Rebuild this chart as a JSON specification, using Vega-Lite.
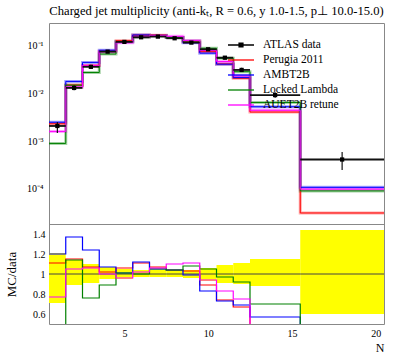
{
  "$schema": "https://vega.github.io/schema/vega-lite/v6.json",
  "width": 335,
  "height": 301,
  "autosize": {"type": "none"},
  "padding": {"left": 49, "top": 23, "right": 13, "bottom": 34},
  "title": {"text": "Charged jet multiplicity (anti-kₜ, R = 0.6, y 1.0-1.5, p⊥ 10.0-15.0)", "font": "Liberation Serif", "fontSize": 12.6, "fontWeight": "normal", "color": "black", "anchor": "middle", "frame": "group", "baseline": "alphabetic", "offset": -5},
  "config": {
    "view": {"stroke": "#888888", "strokeWidth": 1},
    "axis": {"labelFont": "Liberation Serif", "labelFontSize": 10, "labelColor": "black", "tickColor": "#888888", "tickWidth": 1, "tickSize": 0, "domain": false, "grid": false, "labelOverlap": false, "labelFlush": false, "zindex": 1, "titleFont": "Liberation Serif", "titleFontWeight": "normal", "titleColor": "black"}
  },
  "datasets": {
    "dat": [
      {"x": 1, "lo": 0.5, "hi": 1.5, "y": 0.00207, "ylo": 0.00147, "yhi": 0.0025, "rlo": 0.71, "rhi": 1.21},
      {"x": 2, "lo": 1.5, "hi": 2.5, "y": 0.013, "ylo": 0.01157, "yhi": 0.01482, "rlo": 0.89, "rhi": 1.14},
      {"x": 3, "lo": 2.5, "hi": 3.5, "y": 0.036, "ylo": 0.0328, "yhi": 0.0396, "rlo": 0.91, "rhi": 1.1},
      {"x": 4, "lo": 3.5, "hi": 4.5, "y": 0.075, "ylo": 0.0713, "yhi": 0.0803, "rlo": 0.95, "rhi": 1.07},
      {"x": 5, "lo": 4.5, "hi": 5.5, "y": 0.12, "ylo": 0.114, "yhi": 0.126, "rlo": 0.95, "rhi": 1.05},
      {"x": 6, "lo": 5.5, "hi": 6.5, "y": 0.15, "ylo": 0.1455, "yhi": 0.156, "rlo": 0.97, "rhi": 1.04},
      {"x": 7, "lo": 6.5, "hi": 7.5, "y": 0.155, "ylo": 0.1504, "yhi": 0.1612, "rlo": 0.97, "rhi": 1.04},
      {"x": 8, "lo": 7.5, "hi": 8.5, "y": 0.143, "ylo": 0.1387, "yhi": 0.1487, "rlo": 0.97, "rhi": 1.04},
      {"x": 9, "lo": 8.5, "hi": 9.5, "y": 0.116, "ylo": 0.1114, "yhi": 0.1206, "rlo": 0.96, "rhi": 1.04},
      {"x": 10, "lo": 9.5, "hi": 10.5, "y": 0.084, "ylo": 0.0781, "yhi": 0.089, "rlo": 0.93, "rhi": 1.06},
      {"x": 11, "lo": 10.5, "hi": 11.5, "y": 0.056, "ylo": 0.051, "yhi": 0.061, "rlo": 0.91, "rhi": 1.09},
      {"x": 12, "lo": 11.5, "hi": 12.5, "y": 0.031, "ylo": 0.0279, "yhi": 0.0344, "rlo": 0.9, "rhi": 1.11},
      {"x": 14, "lo": 12.5, "hi": 15.5, "y": 0.0092, "ylo": 0.0081, "yhi": 0.0106, "rlo": 0.88, "rhi": 1.15},
      {"x": 18, "lo": 15.5, "hi": 20.5, "y": 0.00041, "ylo": 0.000246, "yhi": 0.00059, "rlo": 0.6, "rhi": 1.44}
    ],
    "mc": [
      {"gen": "Perugia 2011", "x": 0.5, "v": 0.0023, "r": 1.11},
      {"gen": "Perugia 2011", "x": 1.5, "v": 0.01495, "r": 1.15},
      {"gen": "Perugia 2011", "x": 2.5, "v": 0.0385, "r": 1.07},
      {"gen": "Perugia 2011", "x": 3.5, "v": 0.0765, "r": 1.02},
      {"gen": "Perugia 2011", "x": 4.5, "v": 0.1272, "r": 1.06},
      {"gen": "Perugia 2011", "x": 5.5, "v": 0.1665, "r": 1.11},
      {"gen": "Perugia 2011", "x": 6.5, "v": 0.1659, "r": 1.07},
      {"gen": "Perugia 2011", "x": 7.5, "v": 0.1487, "r": 1.04},
      {"gen": "Perugia 2011", "x": 8.5, "v": 0.1195, "r": 1.03},
      {"gen": "Perugia 2011", "x": 9.5, "v": 0.0748, "r": 0.89},
      {"gen": "Perugia 2011", "x": 10.5, "v": 0.0414, "r": 0.74},
      {"gen": "Perugia 2011", "x": 11.5, "v": 0.0208, "r": 0.67},
      {"gen": "Perugia 2011", "x": 12.5, "v": 0.00405, "r": 0.44},
      {"gen": "Perugia 2011", "x": 15.5, "v": 0.000031, "r": 0.075},
      {"gen": "Perugia 2011", "x": 20.5, "v": 0.000031, "r": 0.075},
      {"gen": "AMBT2B", "x": 0.5, "v": 0.00248, "r": 1.2},
      {"gen": "AMBT2B", "x": 1.5, "v": 0.0178, "r": 1.37},
      {"gen": "AMBT2B", "x": 2.5, "v": 0.0446, "r": 1.24},
      {"gen": "AMBT2B", "x": 3.5, "v": 0.0803, "r": 1.07},
      {"gen": "AMBT2B", "x": 4.5, "v": 0.1212, "r": 1.01},
      {"gen": "AMBT2B", "x": 5.5, "v": 0.168, "r": 1.12},
      {"gen": "AMBT2B", "x": 6.5, "v": 0.1628, "r": 1.05},
      {"gen": "AMBT2B", "x": 7.5, "v": 0.1487, "r": 1.04},
      {"gen": "AMBT2B", "x": 8.5, "v": 0.1148, "r": 0.99},
      {"gen": "AMBT2B", "x": 9.5, "v": 0.0697, "r": 0.83},
      {"gen": "AMBT2B", "x": 10.5, "v": 0.0409, "r": 0.73},
      {"gen": "AMBT2B", "x": 11.5, "v": 0.0214, "r": 0.69},
      {"gen": "AMBT2B", "x": 12.5, "v": 0.00524, "r": 0.57},
      {"gen": "AMBT2B", "x": 15.5, "v": 0.000107, "r": 0.26},
      {"gen": "AMBT2B", "x": 20.5, "v": 0.000107, "r": 0.26},
      {"gen": "Locked Lambda", "x": 0.5, "v": 0.00089, "r": 0.43},
      {"gen": "Locked Lambda", "x": 1.5, "v": 0.01482, "r": 1.14},
      {"gen": "Locked Lambda", "x": 2.5, "v": 0.02736, "r": 0.76},
      {"gen": "Locked Lambda", "x": 3.5, "v": 0.06675, "r": 0.89},
      {"gen": "Locked Lambda", "x": 4.5, "v": 0.1212, "r": 1.01},
      {"gen": "Locked Lambda", "x": 5.5, "v": 0.15, "r": 1.0},
      {"gen": "Locked Lambda", "x": 6.5, "v": 0.1628, "r": 1.05},
      {"gen": "Locked Lambda", "x": 7.5, "v": 0.1487, "r": 1.04},
      {"gen": "Locked Lambda", "x": 8.5, "v": 0.1253, "r": 1.08},
      {"gen": "Locked Lambda", "x": 9.5, "v": 0.0882, "r": 1.05},
      {"gen": "Locked Lambda", "x": 10.5, "v": 0.0543, "r": 0.97},
      {"gen": "Locked Lambda", "x": 11.5, "v": 0.0285, "r": 0.92},
      {"gen": "Locked Lambda", "x": 12.5, "v": 0.00644, "r": 0.7},
      {"gen": "Locked Lambda", "x": 15.5, "v": 0.00009, "r": 0.22},
      {"gen": "Locked Lambda", "x": 20.5, "v": 0.00009, "r": 0.22},
      {"gen": "AUET2B retune", "x": 0.5, "v": 0.00159, "r": 0.77},
      {"gen": "AUET2B retune", "x": 1.5, "v": 0.01365, "r": 1.05},
      {"gen": "AUET2B retune", "x": 2.5, "v": 0.0382, "r": 1.06},
      {"gen": "AUET2B retune", "x": 3.5, "v": 0.075, "r": 1.0},
      {"gen": "AUET2B retune", "x": 4.5, "v": 0.1152, "r": 0.96},
      {"gen": "AUET2B retune", "x": 5.5, "v": 0.153, "r": 1.02},
      {"gen": "AUET2B retune", "x": 6.5, "v": 0.1643, "r": 1.06},
      {"gen": "AUET2B retune", "x": 7.5, "v": 0.1573, "r": 1.1},
      {"gen": "AUET2B retune", "x": 8.5, "v": 0.1288, "r": 1.11},
      {"gen": "AUET2B retune", "x": 9.5, "v": 0.079, "r": 0.94},
      {"gen": "AUET2B retune", "x": 10.5, "v": 0.0465, "r": 0.83},
      {"gen": "AUET2B retune", "x": 11.5, "v": 0.02325, "r": 0.75},
      {"gen": "AUET2B retune", "x": 12.5, "v": 0.00442, "r": 0.48},
      {"gen": "AUET2B retune", "x": 15.5, "v": 0.000098, "r": 0.24},
      {"gen": "AUET2B retune", "x": 20.5, "v": 0.000098, "r": 0.24}
    ]
  },
  "layer": [
    {
      "data": {"name": "dat"},
      "mark": {"type": "rect", "color": "#ffff00"},
      "encoding": {
        "x": {"field": "lo", "type": "quantitative", "scale": {"domain": [0.5, 20.5], "nice": false, "zero": false},
          "axis": {"orient": "bottom", "values": [1,2,3,4,5,6,7,8,9,10,11,12,13,14,15,16,17,18,19,20], "labelExpr": "datum.value % 5 === 0 ? datum.label : ''", "labelPadding": 4, "title": "N", "titleX": 335, "titleY": 27, "titleAlign": "right", "titleBaseline": "alphabetic", "titleFontSize": 12,
            "encode": {"ticks": {"update": {"y2": {"signal": "datum.value % 5 === 0 ? -10 : -5"}}}}}},
        "x2": {"field": "hi"},
        "y": {"field": "rlo", "type": "quantitative", "scale": {"domain": [0.5, 1.5], "range": [301, 201], "nice": false, "zero": false},
          "axis": {"orient": "left", "values": [0.55,0.6,0.65,0.7,0.75,0.8,0.85,0.9,0.95,1,1.05,1.1,1.15,1.2,1.25,1.3,1.35,1.4,1.45], "labelExpr": "abs(datum.value*5 - round(datum.value*5)) < 0.001 ? '' + round(datum.value*10)/10 : ''", "labelPadding": 4, "title": "MC/data", "titleX": -38, "titleY": 251, "titleAngle": 270, "titleAlign": "center", "titleBaseline": "middle", "titleFontSize": 13,
            "encode": {"ticks": {"update": {"x2": {"signal": "abs(datum.value*5 - round(datum.value*5)) < 0.001 ? 9 : 5"}}}}}},
        "y2": {"field": "rhi"}
      }
    },
    {
      "data": {"name": "dat"},
      "mark": {"type": "rule", "color": "#444444", "strokeWidth": 1},
      "encoding": {
        "x": {"field": "lo", "type": "quantitative", "scale": {"domain": [0.5, 20.5], "nice": false, "zero": false}, "axis": null},
        "x2": {"field": "hi"},
        "y": {"datum": 1, "type": "quantitative", "scale": {"domain": [0.5, 1.5], "range": [301, 201], "nice": false, "zero": false}, "axis": null}
      }
    },
    {
      "data": {"name": "mc"},
      "mark": {"type": "line", "interpolate": "step-after", "strokeWidth": 1.2, "clip": true},
      "encoding": {
        "x": {"field": "x", "type": "quantitative", "scale": {"domain": [0.5, 20.5], "nice": false, "zero": false},
          "axis": {"orient": "top", "offset": -201, "title": null, "labels": false, "values": [1,2,3,4,5,6,7,8,9,10,11,12,13,14,15,16,17,18,19,20],
            "encode": {"ticks": {"update": {"y2": {"signal": "datum.value % 5 === 0 ? 10 : 5"}}}}}},
        "y": {"field": "r", "type": "quantitative", "scale": {"domain": [0.5, 1.5], "range": [301, 201], "nice": false, "zero": false},
          "axis": {"orient": "right", "title": null, "labels": false, "values": [0.55,0.6,0.65,0.7,0.75,0.8,0.85,0.9,0.95,1,1.05,1.1,1.15,1.2,1.25,1.3,1.35,1.4,1.45],
            "encode": {"ticks": {"update": {"x2": {"signal": "abs(datum.value*5 - round(datum.value*5)) < 0.001 ? -9 : -5"}}}}}},
        "color": {"field": "gen", "type": "nominal", "scale": {"domain": ["ATLAS data", "Perugia 2011", "AMBT2B", "Locked Lambda", "AUET2B retune"], "range": ["#000000", "#ff0000", "#0000ff", "#008000", "#ff00ff"]}}
      }
    },
    {
      "data": {"name": "mc"},
      "mark": {"type": "line", "interpolate": "step-after", "strokeWidth": 3, "opacity": 0.35, "clip": true},
      "encoding": {
        "x": {"field": "x", "type": "quantitative", "scale": {"domain": [0.5, 20.5], "nice": false, "zero": false},
          "axis": {"orient": "top", "title": null, "labels": false, "values": [1,2,3,4,5,6,7,8,9,10,11,12,13,14,15,16,17,18,19,20],
            "encode": {"ticks": {"update": {"y2": {"signal": "datum.value % 5 === 0 ? 10 : 5"}}}}}},
        "y": {"field": "v", "type": "quantitative", "scale": {"type": "log", "domain": [0.0000182, 0.299], "range": [201, 0], "nice": false},
          "axis": {"orient": "left", "title": null, "labelPadding": 6, "values": [0.00002,0.00003,0.00004,0.00005,0.00006,0.00007,0.00008,0.00009,0.0001,0.0002,0.0003,0.0004,0.0005,0.0006,0.0007,0.0008,0.0009,0.001,0.002,0.003,0.004,0.005,0.006,0.007,0.008,0.009,0.01,0.02,0.03,0.04,0.05,0.06,0.07,0.08,0.09,0.1,0.2],
            "labelExpr": "abs(datum.value-0.1) < 1e-9 ? '10⁻¹' : abs(datum.value-0.01) < 1e-10 ? '10⁻²' : abs(datum.value-0.001) < 1e-11 ? '10⁻³' : abs(datum.value-0.0001) < 1e-12 ? '10⁻⁴' : ''",
            "encode": {"ticks": {"update": {"x2": {"signal": "abs(log(datum.value)/LN10 - round(log(datum.value)/LN10)) < 0.001 ? 9 : 5"}}}}}},
        "color": {"field": "gen", "type": "nominal", "scale": {"domain": ["ATLAS data", "Perugia 2011", "AMBT2B", "Locked Lambda", "AUET2B retune"], "range": ["#000000", "#ff0000", "#0000ff", "#008000", "#ff00ff"]}}
      }
    },
    {
      "data": {"name": "mc"},
      "mark": {"type": "line", "interpolate": "step-after", "strokeWidth": 1, "clip": true},
      "encoding": {
        "x": {"field": "x", "type": "quantitative", "scale": {"domain": [0.5, 20.5], "nice": false, "zero": false},
          "axis": {"orient": "bottom", "offset": -100, "title": null, "labels": false, "domain": true, "domainColor": "#888888", "values": [1,2,3,4,5,6,7,8,9,10,11,12,13,14,15,16,17,18,19,20],
            "encode": {"ticks": {"update": {"y2": {"signal": "datum.value % 5 === 0 ? -10 : -5"}}}}}},
        "y": {"field": "v", "type": "quantitative", "scale": {"type": "log", "domain": [0.0000182, 0.299], "range": [201, 0], "nice": false},
          "axis": {"orient": "right", "title": null, "labels": false, "values": [0.00002,0.00003,0.00004,0.00005,0.00006,0.00007,0.00008,0.00009,0.0001,0.0002,0.0003,0.0004,0.0005,0.0006,0.0007,0.0008,0.0009,0.001,0.002,0.003,0.004,0.005,0.006,0.007,0.008,0.009,0.01,0.02,0.03,0.04,0.05,0.06,0.07,0.08,0.09,0.1,0.2],
            "encode": {"ticks": {"update": {"x2": {"signal": "abs(log(datum.value)/LN10 - round(log(datum.value)/LN10)) < 0.001 ? -9 : -5"}}}}}},
        "color": {"field": "gen", "type": "nominal", "scale": {"domain": ["ATLAS data", "Perugia 2011", "AMBT2B", "Locked Lambda", "AUET2B retune"], "range": ["#000000", "#ff0000", "#0000ff", "#008000", "#ff00ff"]},
          "legend": {"orient": "none", "legendX": 184.5, "legendY": 14.5, "title": null, "padding": 0, "rowPadding": 2, "symbolSize": 169, "symbolStrokeWidth": 1.5, "symbolOpacity": 1, "labelOffset": 14.5, "labelFont": "Liberation Serif", "labelFontSize": 11.5, "labelColor": "black",
            "encode": {"symbols": {"update": {"shape": {"signal": "datum.value === 'ATLAS data' ? 'M-2,0H2M-0.3,-0.3H0.3V0.3H-0.3Z' : 'M-2,0H2'"}, "fill": {"signal": "datum.value === 'ATLAS data' ? 'black' : 'transparent'"}, "strokeWidth": {"value": 1.3}, "opacity": {"value": 1}}}}}}
      }
    },
    {
      "data": {"name": "dat"},
      "mark": {"type": "rule", "color": "#111111", "strokeWidth": 1.8},
      "encoding": {
        "x": {"field": "lo", "type": "quantitative", "scale": {"domain": [0.5, 20.5], "nice": false, "zero": false}, "axis": null},
        "x2": {"field": "hi"},
        "y": {"field": "y", "type": "quantitative", "scale": {"type": "log", "domain": [0.0000182, 0.299], "range": [201, 0], "nice": false}, "axis": null}
      }
    },
    {
      "data": {"name": "dat"},
      "mark": {"type": "rule", "color": "#111111", "strokeWidth": 1.2},
      "encoding": {
        "x": {"field": "x", "type": "quantitative", "scale": {"domain": [0.5, 20.5], "nice": false, "zero": false}, "axis": null},
        "y": {"field": "ylo", "type": "quantitative", "scale": {"type": "log", "domain": [0.0000182, 0.299], "range": [201, 0], "nice": false}, "axis": null},
        "y2": {"field": "yhi"}
      }
    },
    {
      "data": {"name": "dat"},
      "mark": {"type": "point", "shape": "square", "filled": true, "color": "#000000", "size": 18, "opacity": 1},
      "encoding": {
        "x": {"field": "x", "type": "quantitative", "scale": {"domain": [0.5, 20.5], "nice": false, "zero": false}, "axis": null},
        "y": {"field": "y", "type": "quantitative", "scale": {"type": "log", "domain": [0.0000182, 0.299], "range": [201, 0], "nice": false}, "axis": null}
      }
    }
  ],
  "resolve": {"scale": {"y": "independent"}, "axis": {"x": "independent", "y": "independent"}}
}
